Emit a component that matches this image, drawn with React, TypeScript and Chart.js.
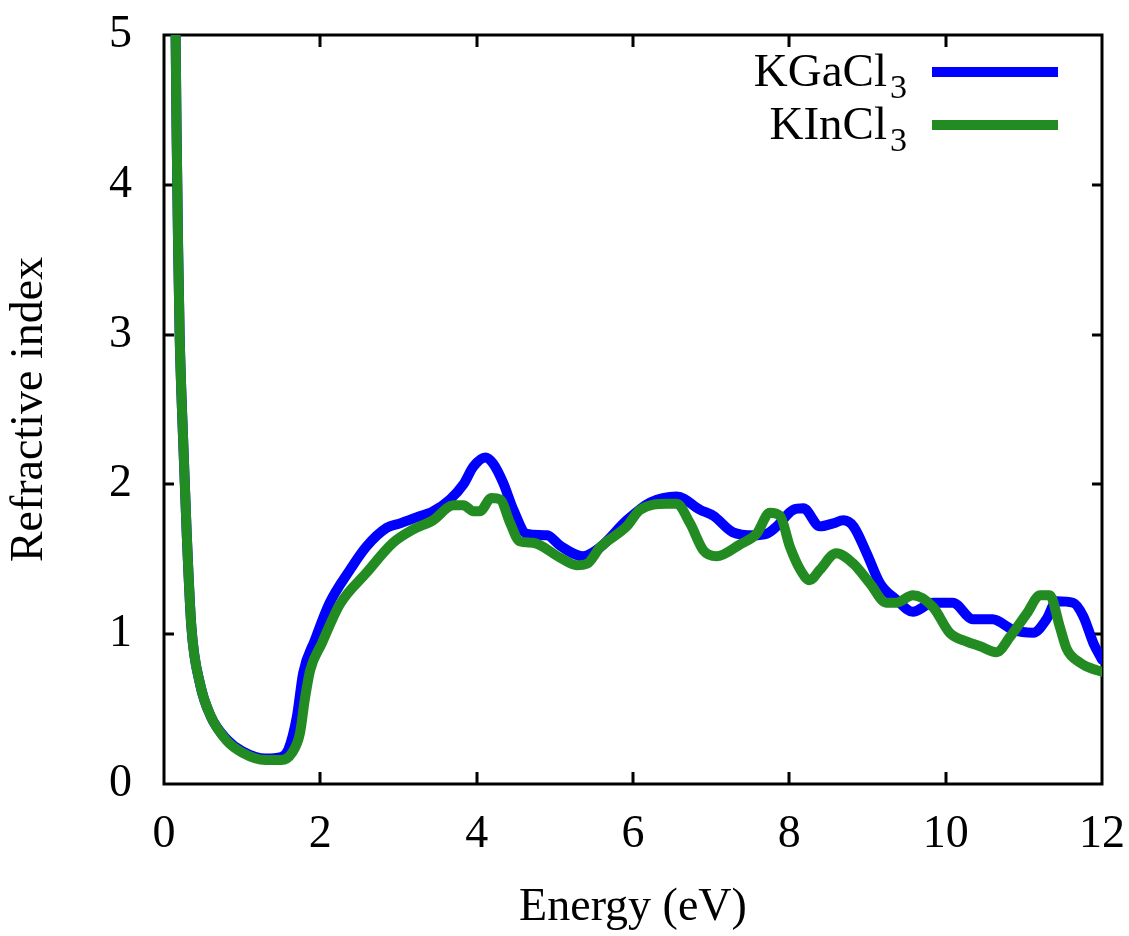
import React, { useEffect, useRef } from "react";
import { Chart, registerables } from "chart.js";

Chart.register(...registerables);

// ---- Data ----
const energyGa = [0.145, 0.16, 0.18, 0.2, 0.23, 0.29, 0.35, 0.46, 0.6, 0.8, 1.0, 1.3, 1.5, 1.59, 1.7, 1.78, 1.93, 2.12, 2.38, 2.59, 2.85, 3.02, 3.23, 3.44, 3.66, 3.83, 3.96, 4.11, 4.21, 4.34, 4.47, 4.64, 4.9, 5.07, 5.36, 5.58, 5.92, 6.22, 6.56, 6.86, 7.03, 7.28, 7.54, 7.71, 7.84, 8.05, 8.18, 8.39, 8.56, 8.69, 8.82, 8.99, 9.16, 9.37, 9.58, 9.84, 10.09, 10.35, 10.6, 10.86, 11.12, 11.29, 11.42, 11.63, 11.76, 11.89, 12.0];
const indexGa = [5.2, 4.4, 3.6, 3.0, 2.5, 1.68, 1.05, 0.67, 0.45, 0.3, 0.22, 0.17, 0.18, 0.23, 0.45, 0.74, 0.96, 1.21, 1.43, 1.585, 1.71, 1.74, 1.78, 1.82, 1.9, 2.0, 2.12, 2.18, 2.14, 2.01, 1.83, 1.67, 1.66, 1.59, 1.52, 1.58, 1.76, 1.88, 1.92, 1.83, 1.79, 1.68, 1.66, 1.67, 1.72, 1.83, 1.84, 1.72, 1.74, 1.76, 1.72, 1.54, 1.34, 1.23, 1.15, 1.21, 1.21, 1.1, 1.1, 1.03, 1.01, 1.1, 1.22, 1.21, 1.12, 0.94, 0.83];

const energyIn = [0.145, 0.16, 0.18, 0.2, 0.23, 0.29, 0.35, 0.46, 0.6, 0.8, 1.0, 1.3, 1.5, 1.64, 1.74, 1.8, 1.87, 2.02, 2.25, 2.59, 2.93, 3.19, 3.44, 3.7, 3.83, 3.96, 4.04, 4.19, 4.3, 4.43, 4.55, 4.72, 5.07, 5.28, 5.41, 5.58, 5.92, 6.09, 6.43, 6.56, 6.73, 6.9, 7.07, 7.37, 7.58, 7.75, 7.88, 8.01, 8.14, 8.26, 8.39, 8.6, 8.82, 9.03, 9.24, 9.37, 9.58, 9.84, 10.05, 10.27, 10.44, 10.65, 10.82, 11.04, 11.21, 11.33, 11.46, 11.55, 11.72, 11.93, 12.0];
const indexIn = [5.2, 4.4, 3.6, 3.0, 2.5, 1.68, 1.05, 0.67, 0.45, 0.29, 0.21, 0.16, 0.16, 0.21, 0.34, 0.56, 0.76, 0.94, 1.2, 1.41, 1.61, 1.7, 1.76, 1.86, 1.86, 1.82, 1.82, 1.91, 1.9, 1.74, 1.62, 1.61, 1.51, 1.46, 1.47, 1.58, 1.72, 1.83, 1.87, 1.87, 1.74, 1.56, 1.52, 1.6, 1.67, 1.81, 1.79, 1.58, 1.43, 1.36, 1.43, 1.54, 1.47, 1.34, 1.21, 1.21, 1.26, 1.18, 1.01, 0.95, 0.92, 0.88, 0.98, 1.14, 1.26, 1.26, 1.05, 0.9, 0.81, 0.76, 0.75];

const seriesNames = ["KGaCl", "KInCl"];
const seriesSubscripts = ["3", "3"];
const seriesColors = ["#0000ff", "#228b22"];
const xTickValues = [0, 2, 4, 6, 8, 10, 12];
const yTickValues = [0, 1, 2, 3, 4, 5];
const xTitle = "Energy (eV)";
const yTitle = "Refractive index";

const FONT = "'Liberation Serif', 'Times New Roman', serif";

const framePlugin = {
  id: "frameTicks",
  beforeDatasetsDraw(chart: any) {
    const { ctx, chartArea } = chart;
    const { left, right, top, bottom } = chartArea;
    const xs = chart.scales.x;
    const ys = chart.scales.y;
    ctx.save();
    ctx.strokeStyle = "#000";
    ctx.lineWidth = 3;
    ctx.lineCap = "butt";
    ctx.beginPath();
    xTickValues.forEach((v) => {
      const px = Math.round(xs.getPixelForValue(v));
      if (px <= left + 1 || px >= right - 1) return;
      ctx.moveTo(px, bottom);
      ctx.lineTo(px, bottom - 12);
      ctx.moveTo(px, top);
      ctx.lineTo(px, top + 12);
    });
    yTickValues.forEach((v) => {
      const py = Math.round(ys.getPixelForValue(v));
      if (py <= top + 1 || py >= bottom - 1) return;
      ctx.moveTo(left, py);
      ctx.lineTo(left + 10, py);
      ctx.moveTo(right, py);
      ctx.lineTo(right - 10, py);
    });
    ctx.stroke();
    ctx.strokeRect(left, top, right - left, bottom - top);
    ctx.restore();
  },
  afterDraw(chart: any) {
    const { ctx } = chart;
    ctx.save();
    const textRight = 907;
    const lineX0 = 932;
    const lineX1 = 1058;
    const rowY = [72, 125];
    seriesNames.forEach((name, i) => {
      const y = rowY[i];
      const baseline = y + 14;
      ctx.font = `34px ${FONT}`;
      const subW = ctx.measureText(seriesSubscripts[i]).width;
      ctx.font = `47px ${FONT}`;
      const mainW = ctx.measureText(name).width;
      ctx.fillStyle = "#000";
      ctx.textBaseline = "alphabetic";
      ctx.textAlign = "left";
      const startX = textRight - subW - 3 - mainW;
      ctx.fillText(name, startX, baseline);
      ctx.font = `34px ${FONT}`;
      ctx.fillText(seriesSubscripts[i], startX + mainW + 3, baseline + 12);
      ctx.strokeStyle = seriesColors[i];
      ctx.lineWidth = 10;
      ctx.lineCap = "butt";
      ctx.beginPath();
      ctx.moveTo(lineX0, y);
      ctx.lineTo(lineX1, y);
      ctx.stroke();
    });
    ctx.restore();
  },
};

export default function App() {
  const ref = useRef<HTMLCanvasElement | null>(null);
  useEffect(() => {
    if (!ref.current) return;
    const toPoints = (xs: number[], ys: number[]) => xs.map((x, i) => ({ x, y: ys[i] }));
    const chart = new Chart(ref.current, {
      type: "line",
      data: {
        datasets: [
          {
            label: seriesNames[0] + seriesSubscripts[0],
            data: toPoints(energyGa, indexGa),
            borderColor: seriesColors[0],
            backgroundColor: seriesColors[0],
            borderWidth: 10,
            pointRadius: 0,
            cubicInterpolationMode: "monotone",
            borderJoinStyle: "round",
            borderCapStyle: "round",
            order: 1,
          },
          {
            label: seriesNames[1] + seriesSubscripts[1],
            data: toPoints(energyIn, indexIn),
            borderColor: seriesColors[1],
            backgroundColor: seriesColors[1],
            borderWidth: 10,
            pointRadius: 0,
            cubicInterpolationMode: "monotone",
            borderJoinStyle: "round",
            borderCapStyle: "round",
            order: 0,
          },
        ],
      },
      plugins: [framePlugin],
      options: {
        responsive: false,
        animation: false,
        devicePixelRatio: 1,
        layout: { padding: { top: 35, right: 27, left: 0, bottom: 0 } },
        plugins: { legend: { display: false }, tooltip: { enabled: false } },
        scales: {
          x: {
            type: "linear",
            min: 0,
            max: 12,
            afterBuildTicks: (scale: any) => {
              scale.ticks = xTickValues.map((v) => ({ value: v }));
            },
            afterFit: (scale: any) => {
              scale.height = 152;
              scale.paddingLeft = 0;
              scale.paddingRight = 0;
              scale.paddingTop = 0;
              scale.paddingBottom = 0;
            },
            ticks: {
              font: { family: FONT, size: 46 },
              color: "#000",
              padding: 23,
              maxRotation: 0,
              autoSkip: false,
            },
            grid: { display: false, drawTicks: false },
            border: { display: false },
            title: {
              display: true,
              text: xTitle,
              font: { family: FONT, size: 46 },
              color: "#000",
              padding: { top: 0, bottom: 0 },
            },
          },
          y: {
            type: "linear",
            min: 0,
            max: 5,
            afterBuildTicks: (scale: any) => {
              scale.ticks = yTickValues.map((v) => ({ value: v }));
            },
            afterFit: (scale: any) => {
              scale.width = 164;
              scale.paddingLeft = 0;
              scale.paddingRight = 0;
              scale.paddingTop = 0;
              scale.paddingBottom = 0;
            },
            ticks: {
              font: { family: FONT, size: 46 },
              color: "#000",
              padding: 32,
              autoSkip: false,
            },
            grid: { display: false, drawTicks: false },
            border: { display: false },
            title: {
              display: true,
              text: yTitle,
              font: { family: FONT, size: 46 },
              color: "#000",
              padding: { top: 2, bottom: 0 },
            },
          },
        },
      },
    } as any);
    return () => chart.destroy();
  }, []);
  return (
    <div style={{ position: "absolute", left: 0, top: 0, width: 1129, height: 936, background: "#fff" }}>
      <canvas ref={ref} width={1129} height={936} style={{ width: 1129, height: 936, display: "block" }} />
    </div>
  );
}
